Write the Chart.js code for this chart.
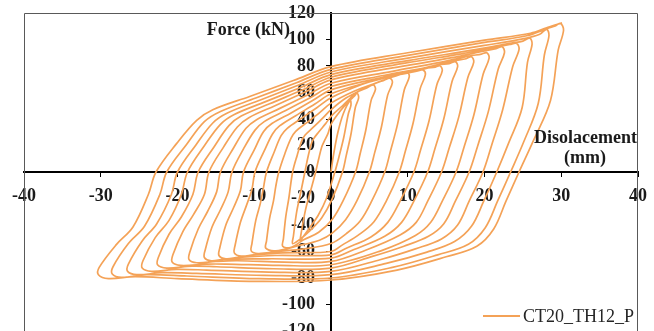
<!DOCTYPE html>
<html><head><meta charset="utf-8">
<script src="https://cdn.jsdelivr.net/npm/chart.js@4.4.1/dist/chart.umd.min.js"></script>
<style>html,body{margin:0;padding:0;background:#fff;overflow:hidden;width:654px;height:331px}canvas{display:block}</style>
</head><body>
<canvas id="c" width="654" height="345"></canvas>
<script>
const xTicks = [-40, -30, -20, -10, 0, 10, 20, 30, 40];
const yTicks = [-120, -100, -80, -60, -40, -20, 0, 20, 40, 60, 80, 100, 120];
const seriesName = 'CT20_TH12_P';
const yTitle = 'Force (kN)';
const xTitle = ['Disolacement', '(mm)'];

// Displacement (mm), force (kN) pairs, one list per loop
const initialLoading = [[0,0],[0.3,12],[0.9,30],[1.6,44]];
const loop01 = [[2.5,54],[2.6,50.5],[2.26,44],[1.66,26],[1.02,11],[0.5,0],[-0.6,-20],[-1.7,-33],[-2.9,-43],[-3.7,-49.5],[-4,-52],
  [-3.9,-46.5],[-3.3,-28],[-2.6,-13],[-2,0],[-1.6,10],[-1.2,19],[-0.9,23],[-0.4,29],[0,36],[1.2,46],[2.4,53.8],[3,57]];
const loop02 = [[3.4,59.4],[3.6,56],[3.17,48.7],[2.6,28.5],[1.99,12.5],[1.5,0],[0.1,-21],[-1.2,-34.5],[-2.7,-44],[-4.2,-51.5],[-5,-54],
  [-4.9,-48.5],[-4.5,-31],[-4.0,-17],[-3.4,0],[-3,11.3],[-2.6,20.6],[-2.3,24.8],[-1.6,30.2],[-0.7,36.5],[0,42],[1.5,50],[3.4,60.2],[4.5,63]];
const loop03 = [[5.5,65.7],[5.8,62.5],[5.22,53.9],[4.53,31.5],[3.8,13.8],[3.2,0],[1.6,-21.5],[0.2,-35.5],[-1.6,-45.5],[-3.5,-51],[-5.3,-57],[-6.3,-56],
  [-6.2,-50.5],[-5.9,-34],[-5.5,-20],[-5,0],[-4.4,12.7],[-3.85,23],[-3.4,27.7],[-2.3,33.8],[-1.05,40.9],[0,47],[2,56],[4.5,63.5],[5.6,66.5],[6.8,69]];
const loop04 = [[7.7,70.7],[8,67.5],[7.38,58],[6.57,34],[5.7,14.8],[5,0],[3.4,-21.5],[1.9,-36],[0.2,-46],[-1.5,-51.5],[-4.5,-56],[-7.2,-59.5],[-8.5,-57.5],
  [-8.4,-52],[-8,-35],[-7.5,-22],[-7.2,-11],[-6.8,0],[-6,14],[-5.2,25.5],[-4.6,30.7],[-3.1,37.4],[-1.4,45.2],[0,52],[3,61],[6,67.5],[8,71.7],[9.2,74]];
const loop05 = [[9.9,75.7],[10.2,72],[9.55,62.1],[8.68,36.3],[7.75,15.9],[7,0],[5.3,-22],[3.8,-37],[2,-46.5],[0,-54],[-3.5,-58],[-7,-60],[-9.5,-61.5],[-10.4,-59.5],
  [-10.3,-54],[-9.8,-36.5],[-9.2,-23.5],[-8.8,-12],[-8.4,0],[-7.4,15.1],[-6.5,27.4],[-5.7,33],[-3.9,40.3],[-1.8,48.7],[0,56],[4,66],[8,73.5],[10.2,76.3],[11.3,76.8]];
const loop06 = [[12,77],[12.3,73.5],[11.63,63.1],[10.7,37],[9.71,16.2],[8.9,0],[7.2,-22],[5.6,-37.5],[3.6,-47.5],[1.5,-55],[0,-60],[-6.3,-61],[-10.1,-62.5],[-11.7,-63.5],[-12.6,-61],
  [-12.5,-55.5],[-11.8,-38],[-11,-25],[-10.3,-13],[-9.9,0],[-8.7,15.9],[-7.6,28.9],[-6.7,34.8],[-4.6,42.5],[-2.1,51.3],[0,59],[5,68],[9.5,74.5],[12.3,78.3],[13.6,79.2]];
const loop07 = [[14.2,80.2],[14.5,76.5],[13.79,65.8],[12.77,38.5],[11.68,16.8],[10.8,0],[9,-22],[7.4,-38],[5.2,-49],[2,-57.5],[0,-62.5],[-7.3,-63],[-12.1,-64.5],[-13.7,-65.5],[-14.6,-63],
  [-14.5,-57.5],[-13.7,-40],[-12.7,-27],[-11.8,-14],[-11.4,0],[-10,16.7],[-8.8,30.4],[-7.7,36.6],[-5.2,44.6],[-2.4,53.9],[0,62],[6,70.5],[11,76],[14,80.8],[15.4,81.8]];
const loop08 = [[16.2,83.3],[16.5,79.5],[15.77,68.3],[14.69,40],[13.54,17.5],[12.6,0],[10.8,-22],[9.2,-38],[7,-48.5],[3,-58.5],[0,-65],[-8.2,-65.5],[-14,-66],[-15.6,-67],[-16.5,-64.5],
  [-16.4,-59],[-15.5,-41.5],[-14.4,-28.5],[-13.4,-15],[-12.9,0],[-11.4,17.4],[-9.9,31.6],[-8.7,38],[-5.9,46.4],[-2.7,56.1],[0,64.5],[7,73],[12.5,79],[16,83.8],[17.6,85.5]];
const loop09 = [[18.3,87],[18.6,83],[17.83,71.3],[16.66,41.8],[15.41,18.3],[14.4,0],[12.6,-22],[11.1,-38],[9,-47.5],[4.5,-59],[0,-67.5],[-6.1,-68],[-12.2,-67],[-15,-67.5],[-17.5,-68.5],[-18.5,-66],
  [-18.4,-60.5],[-17.3,-43],[-16.1,-30],[-14.9,-15],[-14.4,0],[-12.7,18.1],[-11.1,32.8],[-9.7,39.5],[-6.6,48.2],[-3,58.3],[0,67],[8,76],[14,82.5],[18,87.5],[19.6,89]];
const loop10 = [[20.3,90],[20.6,86],[19.82,73.8],[18.62,43.2],[17.34,18.9],[16.3,0],[14.5,-22],[13,-38],[11,-48],[6.5,-59.5],[0,-70],[-6.8,-70.5],[-13.7,-69.5],[-16.2,-69.5],[-19.6,-70.5],[-20.7,-68],
  [-20.6,-62.5],[-19.3,-45],[-17.9,-32],[-16.5,-17],[-15.9,0],[-14,18.8],[-12.2,34],[-10.7,41],[-7.3,50],[-3.3,60.5],[0,69.5],[10,80.5],[16,86.5],[19.5,90.8],[21.5,93]];
const loop11 = [[22.3,94.6],[22.6,90],[21.78,77.6],[20.49,45.4],[19.12,19.9],[18,0],[16.2,-22],[14.7,-39],[12.7,-48.5],[9.5,-56],[5.5,-63.5],[0,-72.5],[-7.5,-73],[-14.9,-71.5],[-18.1,-71],[-21.4,-72.5],[-22.6,-70],
  [-22.5,-64.5],[-21.1,-47],[-19.5,-34],[-18,-17],[-17.3,0],[-15.2,19.3],[-13.3,35],[-11.7,42.2],[-8,51.5],[-3.6,62.2],[0,71.5],[10,82.5],[17,89.2],[21.5,94.2],[23.3,96.2]];
const loop12 = [[24.2,97],[24.5,92.5],[23.67,79.5],[22.35,46.6],[20.94,20.4],[19.8,0],[18,-22],[16.5,-40],[14.4,-50.5],[11,-58],[6.5,-66],[0,-75],[-8.1,-75.5],[-16.2,-74],[-20.1,-73.5],[-23.4,-75],[-24.6,-72.5],
  [-24.5,-67],[-22.9,-49.5],[-21.1,-36.5],[-19.5,-17],[-18.7,0],[-16.5,19.8],[-14.4,36],[-12.6,43.4],[-8.6,52.9],[-3.9,63.9],[0,73.5],[10,84],[19,92.5],[23.5,97.3],[25,98.8]];
const loop13 = [[25.9,101],[26.2,96.5],[25.6,82.8],[24.9,48.5],[23.1,21.2],[21.6,0],[19.9,-22],[18.3,-41],[16.1,-52.5],[12.5,-60.5],[7.2,-69],[0,-77.5],[-8.7,-78],[-17.5,-76.5],[-22,-76],[-25.3,-77.5],[-26.5,-75],
  [-26.4,-69.5],[-24.6,-52],[-22.7,-39],[-20.8,-17],[-20,0],[-17.6,20.4],[-15.4,37],[-13.5,44.5],[-9.2,54.4],[-4.2,65.7],[0,75.5],[10,86],[20,95.5],[25,100.5],[27.2,104]];
const loop14 = [[28.1,107.7],[28.4,103],[27.8,88.3],[27.0,51.7],[25.1,22.6],[23.4,0],[21.7,-22],[20.1,-42],[17.9,-54.5],[13.9,-62.5],[8,-72],[0,-80],[-9.4,-80.5],[-18.8,-78.5],[-24,-77.5],[-27.3,-79.5],[-28.5,-77],
  [-28.4,-71.5],[-26.4,-54],[-24.3,-41],[-22.3,-17],[-21.4,0],[-18.8,20.9],[-16.5,38],[-14.4,45.7],[-9.8,55.8],[-4.5,67.4],[0,77.5],[10,88],[20,97.8],[25.5,102.8],[28.2,108.3],[29.3,110.5]];
const loop15 = [[29.9,112.2],[30.3,107],[29.6,92],[28.6,54],[26.4,24],[24.5,0],[22.8,-22],[21.2,-43],[19,-56],[15,-64],[8.6,-74],[0,-81.5],[-10,-82.5],[-20,-80.5],[-25.5,-79],[-29,-80.5],[-30.3,-77.5],
  [-30.2,-72],[-28,-55],[-25.8,-41.5],[-23.8,-17],[-22.8,0],[-20.1,21.6],[-17.5,39],[-15.4,47],[-10.6,57],[-4.9,69],[0,79.5],[10,90],[20,99.5],[26,104.7],[28.1,108.8],[29.5,111.5],[30.1,112.5]];

const loops = [initialLoading, loop01, loop02, loop03, loop04, loop05, loop06, loop07, loop08,
  loop09, loop10, loop11, loop12, loop13, loop14, loop15];
const points = [];
loops.forEach(l => l.forEach(p => points.push({x: p[0], y: p[1]})));

const lineColor = '#F4A257';
const serif = '"Liberation Serif", "Times New Roman", serif';

const noPad = s => { s.paddingTop = 0; s.paddingBottom = 0; s.paddingLeft = 0; s.paddingRight = 0; };

const decor = {
  id: 'decor',
  afterLayout(chart) {
    // put the y axis (line, ticks, labels) on x = 0
    const ys = chart.scales.y;
    const x0 = Math.round(chart.scales.x.getPixelForValue(0));
    ys.left = x0 - 80;
    ys.right = x0;
  },
  beforeDatasetsDraw(chart) {
    const a = chart.chartArea, ctx = chart.ctx;
    ctx.save();
    ctx.strokeStyle = '#595959';
    ctx.lineWidth = 1;
    ctx.beginPath();
    ctx.moveTo(a.left + 0.5, a.bottom + 2);
    ctx.lineTo(a.left + 0.5, a.top + 0.5);
    ctx.lineTo(a.right - 0.5, a.top + 0.5);
    ctx.lineTo(a.right - 0.5, a.bottom + 2);
    ctx.stroke();
    ctx.restore();
  },
  afterDraw(chart) {
    const ctx = chart.ctx, a = chart.chartArea;
    const xs = chart.scales.x, ys = chart.scales.y;
    const x0 = xs.getPixelForValue(0), y0 = ys.getPixelForValue(0);
    ctx.save();
    ctx.fillStyle = '#1a1a1a';
    ctx.font = 'bold 18px ' + serif;
    ctx.textBaseline = 'alphabetic';
    ctx.textAlign = 'right';
    ctx.fillText(yTitle, x0 - 41, ys.getPixelForValue(120) + 22);
    ctx.fillText(xTitle[0], a.right - 1, y0 - 29);
    ctx.textAlign = 'center';
    ctx.fillText(xTitle[1], a.right - 53, y0 - 9);
    // legend
    const ly = 316;
    ctx.strokeStyle = lineColor;
    ctx.lineWidth = 2;
    ctx.beginPath();
    ctx.moveTo(483, ly); ctx.lineTo(520, ly);
    ctx.stroke();
    ctx.font = '18px ' + serif;
    ctx.textAlign = 'left';
    ctx.textBaseline = 'middle';
    ctx.fillStyle = '#262626';
    ctx.fillText(seriesName, 523, ly + 1);
    ctx.restore();
  }
};

new Chart(document.getElementById('c'), {
  type: 'scatter',
  data: {
    datasets: [{
      label: seriesName,
      data: points,
      showLine: true,
      borderColor: lineColor,
      backgroundColor: lineColor,
      borderWidth: 1.7,
      pointRadius: 0,
      tension: 0.35,
      fill: false
    }]
  },
  options: {
    responsive: false,
    animation: false,
    devicePixelRatio: 1,
    layout: { padding: { left: 24, right: 16, top: 13, bottom: 14 } },
    plugins: { legend: { display: false }, tooltip: { enabled: false } },
    scales: {
      x: {
        type: 'linear',
        position: { y: 0 },
        min: -40, max: 40,
        afterFit: noPad,
        afterBuildTicks: s => { s.ticks = xTicks.map(v => ({ value: v })); },
        grid: { drawOnChartArea: false, drawTicks: true, tickLength: 4, color: '#000', lineWidth: 1 },
        border: { display: true, color: '#000', width: 2 },
        ticks: { color: '#1a1a1a', font: { family: serif, size: 18, weight: 'bold' }, padding: 10, maxRotation: 0, autoSkip: false }
      },
      y: {
        type: 'linear',
        position: 'left',
        min: -120, max: 120,
        afterFit: s => { s.width = 0; noPad(s); },
        afterBuildTicks: s => { s.ticks = yTicks.map(v => ({ value: v })); },
        grid: { drawOnChartArea: false, drawTicks: true, tickLength: 5, color: '#000', lineWidth: 1 },
        border: { display: true, color: '#000', width: 2 },
        ticks: { color: '#1a1a1a', font: { family: serif, size: 18, weight: 'bold' }, padding: 11, autoSkip: false }
      }
    }
  },
  plugins: [decor]
});
</script>
</body></html>
